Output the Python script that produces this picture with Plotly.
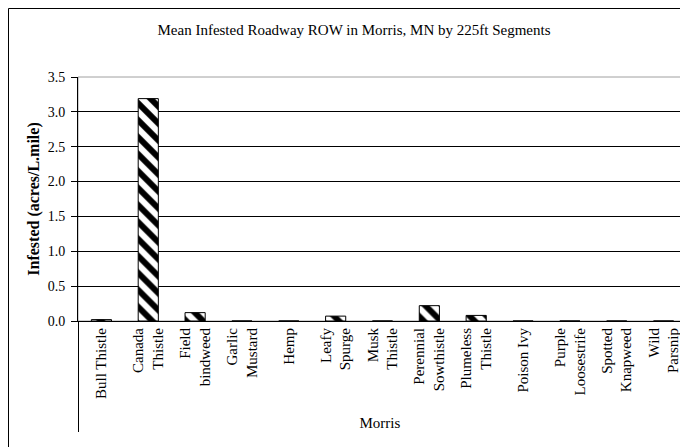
import plotly.graph_objects as go

species = ["Bull Thistle", "Canada<br>Thistle", "Field<br>bindweed", "Garlic<br>Mustard", "Hemp",
           "Leafy<br>Spurge", "Musk<br>Thistle", "Perennial<br>Sowthistle", "Plumeless<br>Thistle",
           "Poison Ivy", "Purple<br>Loosestrife", "Spotted<br>Knapweed", "Wild<br>Parsnip"]
city = ["Morris"] * len(species)
infested = [0.02, 3.19, 0.12, 0.0, 0.0, 0.07, 0.0, 0.22, 0.08, 0.0, 0.0, 0.0, 0.0]

serif = "Liberation Serif, Times New Roman, serif"

# page body adds an 8px offset, so the figure is sized to the visible area
W, H = 680, 439
L, R, T, B = 70, 1, 69, 126
pw, ph = W - L - R, H - T - B

fig = go.Figure()
fig.add_trace(go.Bar(
    x=[city, species],
    y=infested,
    width=0.43,
    marker=dict(
        color="white",
        line=dict(color="black", width=1),
        pattern=dict(shape="\\", fgcolor="black", bgcolor="white", fgopacity=1,
                     size=12, solidity=0.5),
    ),
))

fig.update_layout(
    width=W, height=H,
    margin=dict(l=L, r=R, t=T, b=B),
    paper_bgcolor="white",
    plot_bgcolor="white",
    font=dict(family=serif, size=15, color="black"),
    title=dict(text="Mean Infested Roadway ROW in Morris, MN by 225ft Segments",
               x=(346 - L) / pw, xref="paper", xanchor="center",
               y=1 - 22 / H, yanchor="middle",
               font=dict(family=serif, size=15)),
    showlegend=False,
)

fig.update_xaxes(
    type="multicategory",
    showline=True, linecolor="black", linewidth=1,
    tickangle=-90,
    showdividers=True, dividercolor="black", dividerwidth=1,
    tickfont=dict(family=serif, size=15),
    ticks="",
)
fig.update_yaxes(
    range=[0, 3.5], dtick=0.5, tickformat=".1f",
    showgrid=True, gridcolor="black", gridwidth=1,
    showline=True, linecolor="black", linewidth=1,
    ticks="outside", ticklen=6, tickcolor="black",
    ticklabelstandoff=3,
    zeroline=False,
    title=dict(text="<b>Infested (acres/L.mile)</b>", font=dict(family=serif, size=16), standoff=4),
    tickfont=dict(family=serif, size=14),
)

# plot-area frame and outer chart frame
fig.add_shape(type="rect", xref="paper", yref="paper", x0=0, x1=1, y0=0, y1=1,
              line=dict(color="#a0a0a0", width=1), layer="below")
fig.add_shape(type="rect", xref="paper", yref="paper",
              x0=(0.5 - L) / pw, x1=1.1, y0=-0.6, y1=1 + (T - 0.5) / ph,
              line=dict(color="black", width=1), layer="below")

fig.write_html("out.html")
